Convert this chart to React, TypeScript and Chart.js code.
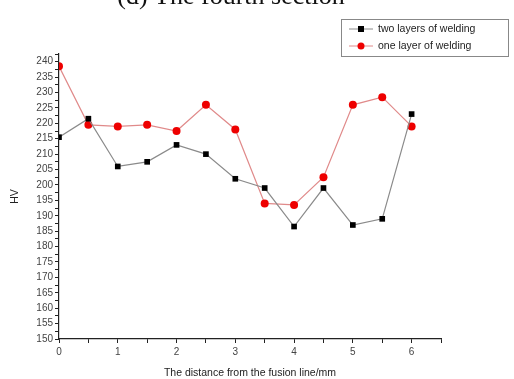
import React, { useEffect, useRef } from "react";
import { Chart, registerables } from "chart.js";

Chart.register(...registerables);

const distances = [0, 0.5, 1, 1.5, 2, 2.5, 3, 3.5, 4, 4.5, 5, 5.5, 6];
const twoLayers = [215.5, 221.5, 206, 207.5, 213, 210, 202, 199, 186.5, 199, 187, 189, 223];
const oneLayer = [238.5, 219.5, 219, 219.5, 217.5, 226, 218, 194, 193.5, 202.5, 226, 228.5, 219];
const seriesNames = ["two layers of welding", "one layer of welding"];
const titleText = "(d) The fourth section";
const xTitle = "The distance from the fusion line/mm";
const yTitle = "HV";

const FONT = "'Liberation Sans', Arial, sans-serif";

const decorPlugin = {
  id: "decor",
  afterDraw(chart: any) {
    const ctx = chart.ctx;
    ctx.save();
    // cut-off title at the top
    ctx.fillStyle = "#111";
    ctx.font = "26px 'Liberation Serif', 'Times New Roman', serif";
    ctx.textAlign = "center";
    ctx.textBaseline = "alphabetic";
    ctx.fillText(titleText, 231, 4);

    // legend box
    const bx = 341, by = 19, bw = 167, bh = 37;
    ctx.strokeStyle = "#888";
    ctx.lineWidth = 1;
    ctx.strokeRect(bx + 0.5, by + 0.5, bw, bh);
    ctx.font = "10.5px " + FONT;
    ctx.textAlign = "left";
    ctx.textBaseline = "middle";
    chart.data.datasets.forEach((ds: any, i: number) => {
      const y = by + 10 + i * 17;
      ctx.strokeStyle = ds.borderColor;
      ctx.lineWidth = 1;
      ctx.beginPath();
      ctx.moveTo(bx + 8, y);
      ctx.lineTo(bx + 32, y);
      ctx.stroke();
      ctx.fillStyle = ds.pointBackgroundColor;
      if (ds.pointStyle === "rect") {
        ctx.fillRect(bx + 17, y - 3, 6, 6);
      } else {
        ctx.beginPath();
        ctx.arc(bx + 20, y, 3.5, 0, Math.PI * 2);
        ctx.fill();
      }
      ctx.fillStyle = "#222";
      ctx.fillText(ds.label, bx + 37, y);
    });
    ctx.restore();
  },
};

export default function App() {
  const ref = useRef<HTMLCanvasElement>(null);
  useEffect(() => {
    if (!ref.current) return;
    const chart = new Chart(ref.current, {
      type: "line",
      data: {
        datasets: [
          {
            label: seriesNames[0],
            data: distances.map((x, i) => ({ x, y: twoLayers[i] })),
            borderColor: "#8a8a8a",
            borderWidth: 1.2,
            pointStyle: "rect",
            pointRadius: 4,
            pointBackgroundColor: "#000",
            pointBorderColor: "#000",
            pointBorderWidth: 0,
          },
          {
            label: seriesNames[1],
            data: distances.map((x, i) => ({ x, y: oneLayer[i] })),
            borderColor: "#e08a8a",
            borderWidth: 1.2,
            pointStyle: "circle",
            pointRadius: 4,
            pointBackgroundColor: "#ee0000",
            pointBorderColor: "#ee0000",
            pointBorderWidth: 0,
          },
        ],
      },
      options: {
        animation: false,
        responsive: false,
        layout: { padding: { left: 0, top: 54, right: 73, bottom: 0 } },
        plugins: { legend: { display: false }, tooltip: { enabled: false } },
        scales: {
          x: {
            type: "linear",
            min: 0,
            max: 6.5,
            border: { color: "#222", width: 1.2 },
            grid: {
              drawOnChartArea: false,
              drawTicks: true,
              tickLength: 4,
              tickColor: "#222",
            },
            ticks: {
              stepSize: 0.5,
              autoSkip: false,
              maxRotation: 0,
              color: "#444",
              font: { family: FONT, size: 10 },
              padding: 3,
              callback: (v: any) => (Number.isInteger(v) && v <= 6 ? String(v) : ""),
            },
            title: {
              display: true,
              text: xTitle,
              color: "#222",
              font: { family: FONT, size: 10.5 },
              padding: { top: 4, bottom: 0 },
            },
            afterFit: (s: any) => {
              s.height = 40;
            },
          },
          y: {
            type: "linear",
            min: 150,
            max: 242.5,
            border: { color: "#222", width: 1.2 },
            grid: {
              drawOnChartArea: false,
              drawTicks: true,
              tickLength: 4,
              tickColor: "#222",
            },
            ticks: {
              stepSize: 2.5,
              autoSkip: false,
              color: "#444",
              font: { family: FONT, size: 10 },
              padding: 2,
              callback: (v: any) => (Number.isInteger(v) && v % 5 === 0 && v <= 240 ? String(v) : ""),
            },
            title: {
              display: true,
              text: yTitle,
              color: "#222",
              font: { family: FONT, size: 10.5 },
              padding: { top: 9, bottom: 0 },
            },
            afterFit: (s: any) => {
              s.width = 59;
            },
          },
        },
      },
      plugins: [decorPlugin],
    });
    return () => chart.destroy();
  }, []);
  return (
    <div style={{ position: "fixed", left: 0, top: 0, width: 514, height: 379, background: "#fff" }}>
      <canvas ref={ref} width={514} height={379} style={{ display: "block" }} />
    </div>
  );
}
